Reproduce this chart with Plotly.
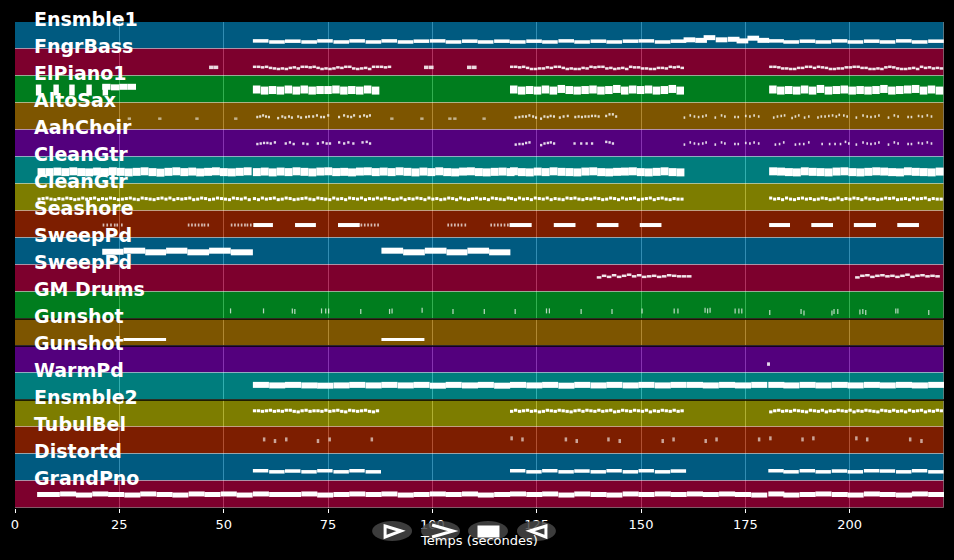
import plotly.graph_objects as go

# track names, top to bottom
track_names = ["Ensmble1", "FngrBass", "ElPiano1", "AltoSax", "AahChoir", "CleanGtr", "CleanGtr", "Seashore", "SweepPd",
               "SweepPd", "GM Drums", "Gunshot", "Gunshot", "WarmPd", "Ensmble2", "TubulBel", "Distortd", "GrandPno"]
tick_vals = [0, 25, 50, 75, 100, 125, 150, 175, 200]
band_colors = ["rgba(0,180,255,0.5)", "rgba(250,0,90,0.5)", "rgba(0,250,60,0.5)", "rgba(250,170,0,0.5)",
               "rgba(165,0,250,0.5)", "rgba(0,250,250,0.5)", "rgba(250,250,0,0.5)", "rgba(250,60,0,0.5)"]

# note start times (seconds), the song is built on these
beats_intro = [5.4, 7.3, 9.2, 11.1, 13.0, 14.9, 16.8, 18.7, 20.6, 22.5, 24.4, 26.3, 28.2, 30.1, 32.0, 33.9, 35.8, 37.7,
               39.6, 41.5, 43.4, 45.3, 47.2, 49.1, 51.0, 52.9, 54.8]
beats_a = [57.0, 58.9, 60.8, 62.7, 64.6, 66.5, 68.4, 70.3, 72.2, 74.1, 76.0, 77.9, 79.8, 81.7, 83.6, 85.5]
beats_mid = [87.4, 89.3, 91.2, 93.1, 95.0, 96.9, 98.8, 100.7, 102.6, 104.5, 106.4, 108.3, 110.2, 112.1, 114.0, 115.9, 117.8]
beats_b = [118.6, 120.5, 122.4, 124.3, 126.2, 128.1, 130.0, 131.9, 133.8, 135.7, 137.6, 139.5, 141.4, 143.3, 145.2,
           147.1, 149.0, 150.9, 152.8, 154.7, 156.6, 158.5]
beats_c = [180.7, 182.6, 184.5, 186.4, 188.3, 190.2, 192.1, 194.0, 195.9, 197.8, 199.7, 201.6, 203.5, 205.4, 207.3,
           209.2, 211.1, 213.0, 214.9, 216.8, 218.7, 220.6]
fine_intro = [5.4, 6.35, 7.3, 8.25, 9.2, 10.15, 11.1, 12.05, 13.0, 13.95, 14.9, 15.85, 16.8, 17.75, 18.7, 19.65, 20.6,
              21.55, 22.5, 23.45, 24.4, 25.35, 26.3, 27.25, 28.2, 29.15, 30.1, 31.05, 32.0, 32.95, 33.9, 34.85, 35.8,
              36.75, 37.7, 38.65, 39.6, 40.55, 41.5, 42.45, 43.4, 44.35, 45.3, 46.25, 47.2, 48.15, 49.1, 50.05, 51.0,
              51.95, 52.9, 53.85, 54.8, 55.75]
fine_a = [57.0, 57.95, 58.9, 59.85, 60.8, 61.75, 62.7, 63.65, 64.6, 65.55, 66.5, 67.45, 68.4, 69.35, 70.3, 71.25, 72.2,
          73.15, 74.1, 75.05, 76.0, 76.95, 77.9, 78.85, 79.8, 80.75, 81.7, 82.65, 83.6, 84.55, 85.5, 86.45]
fine_mid = [87.4, 88.35, 89.3, 90.25, 91.2, 92.15, 93.1, 94.05, 95.0, 95.95, 96.9, 97.85, 98.8, 99.75, 100.7, 101.65,
            102.6, 103.55, 104.5, 105.45, 106.4, 107.35, 108.3, 109.25, 110.2, 111.15, 112.1, 113.05, 114.0, 114.95,
            115.9, 116.85, 117.8]
fine_b = [118.6, 119.55, 120.5, 121.45, 122.4, 123.35, 124.3, 125.25, 126.2, 127.15, 128.1, 129.05, 130.0, 130.95, 131.9,
          132.85, 133.8, 134.75, 135.7, 136.65, 137.6, 138.55, 139.5, 140.45, 141.4, 142.35, 143.3, 144.25, 145.2,
          146.15, 147.1, 148.05, 149.0, 149.95, 150.9, 151.85, 152.8, 153.75, 154.7, 155.65, 156.6, 157.55, 158.5, 159.45]
fine_c = [180.7, 181.65, 182.6, 183.55, 184.5, 185.45, 186.4, 187.35, 188.3, 189.25, 190.2, 191.15, 192.1, 193.05, 194.0,
          194.95, 195.9, 196.85, 197.8, 198.75, 199.7, 200.65, 201.6, 202.55, 203.5, 204.45, 205.4, 206.35, 207.3,
          208.25, 209.2, 210.15, 211.1, 212.05, 213.0, 213.95, 214.9, 215.85, 216.8, 217.75, 218.7, 219.65, 220.6, 221.55]
bars_intro = [5.3, 6.9, 10.8, 14.6, 18.5, 22.3, 26.2, 30.0, 33.9, 37.7, 41.6, 45.4, 49.3, 53.1]
bars_a = [57.0, 60.9, 64.7, 68.6, 72.4, 76.3, 80.1, 84.0]
bars_mid = [87.8, 91.7, 95.5, 99.4, 103.2, 107.1, 110.9, 114.8]
bars_b = [118.6, 122.5, 126.3, 130.2, 134.0, 137.9, 141.7, 145.6, 149.4, 153.3, 157.1]
bars_gap = [161.0, 164.8, 168.7, 172.5, 176.4]
bars_c = [180.5, 184.1, 188.0, 191.8, 195.7, 199.5, 203.4, 207.2, 211.1, 214.9, 218.8]

# pitches, as a fraction of the track height
ens1_a = [.70, .74, .71, .74, .70, .74, .70, .74]
ens1_mid = [.70, .74, .71, .70, .74, .71, .74, .71]
ens1_b = [.74, .71, .74, .70, .74, .71, .74, .71, .70, .74, .71]
ens1_top_start = [160.2, 163.0, 165.0, 167.9, 170.8, 172.9, 175.5, 177.9]
ens1_top = [.66, .68, .58, .66, .64, .70, .60, .68]
ens1_c = [.70, .74, .71, .74, .70, .74, .71, .74, .70, .74, .71]

fngr_solo_start = [46.5, 47.6, 98.0, 99.2, 108.3, 109.5]
fngr_solo = [.68, .68, .68, .68, .68, .68]
fngr_a = [.66, .66, .68, .66, .70, .72, .74, .72, .74, .70, .68, .72, .66, .66, .68, .66, .70, .74, .72, .74, .72, .68,
          .70, .66, .66, .72, .74, .72, .70, .74, .66, .66, .66, .68, .66]
fngr_b = [.66, .66, .68, .66, .70, .74, .74, .72, .72, .68, .70, .66, .66, .70, .74, .72, .74, .74, .70, .72, .66, .68,
          .66, .66, .72, .70, .74, .72, .70, .74, .66, .68, .68, .72, .72, .74, .74, .70, .70, .72, .66, .68, .66, .70]
fngr_c = [.66, .66, .68, .72, .72, .74, .74, .70, .70, .66, .66, .70, .66, .68, .70, .74, .74, .72, .72, .68, .68, .66,
          .66, .70, .70, .74, .74, .72, .74, .68, .66, .68, .72, .74, .74, .72, .70, .74, .66, .70, .68, .72, .70, .72]

piano_teeth_start = [5.0, 9.2, 13.0, 17.1, 21.0]
piano_teeth = [.52, .52, .52, .52, .52]
piano_top_start = [20.9, 23.0, 25.0, 27.0]
piano_top = [.40, .42, .40, .40]
piano_a = [.50, .54, .52, .54, .50, .54, .50, .54, .52, .52, .50, .54, .52, .54, .50, .54]
piano_b = [.50, .54, .52, .54, .50, .54, .48, .52, .54, .52, .50, .54, .52, .48, .54, .50, .52, .50, .54, .52, .48, .54]
piano_c = [.50, .54, .52, .54, .50, .54, .48, .54, .52, .50, .54, .52, .54, .52, .48, .54, .52, .50, .48, .54, .50, .54]

alto_solo_start = [27.0, 34.3, 43.2, 52.5, 89.9, 97.1, 103.8, 105.0, 112.0]
alto_solo = [.58, .58, .58, .58, .58, .58, .58, .58, .58]
alto_a_start = [57.8, 58.5, 59.2, 59.9, 60.6, 62.8, 63.8, 64.5, 65.4, 66.1, 67.6, 68.3, 69.5, 70.2, 71.2, 72.1, 73.1, 73.8,
                74.8, 77.4, 78.6, 79.5, 80.3, 81.0, 82.4, 83.4, 84.1, 84.8]
alto_a = [.52, .50, .46, .50, .52, .56, .50, .54, .50, .54, .50, .54, .52, .50, .50, .46, .52, .52, .46, .52, .46, .50,
          .52, .46, .50, .46, .50, .46]
alto_b_start = [119.7, 120.6, 121.4, 122.2, 123.0, 123.9, 124.6, 125.8, 126.6, 127.4, 128.1, 128.9, 130.3, 131.2, 132.2,
                134.0, 134.8, 135.6, 136.4, 137.2, 138.0, 138.8, 139.6, 141.4, 142.2, 143.0, 143.8]
alto_b = [.54, .52, .50, .50, .46, .50, .54, .58, .50, .52, .48, .50, .54, .50, .48, .52, .50, .52, .50, .50, .48, .48,
          .50, .48, .42, .42, .50]
alto_c_start = [160.2, 161.6, 162.6, 163.6, 164.6, 165.4, 167.6, 169.1, 169.9, 172.3, 173.1, 174.9, 175.9, 176.9, 178.0,
                181.6, 182.5, 183.4, 184.2, 186.0, 186.8, 187.6, 189.0, 190.0, 192.2, 193.0, 193.9, 194.8, 195.7, 196.6,
                197.3, 198.4, 199.2, 201.4, 203.0, 204.0, 204.9, 205.9, 206.8, 209.1, 210.5, 211.4, 213.8, 214.6, 216.3,
                217.2, 218.4, 219.4]
alto_c = [.54, .46, .50, .52, .50, .46, .54, .46, .50, .52, .52, .48, .50, .46, .50,
          .54, .50, .48, .46, .56, .50, .46, .54, .50, .54, .50, .50, .48, .46, .50,
          .44, .46, .50, .54, .46, .50, .52, .50, .46, .54, .46, .50, .52, .52, .48, .50, .46, .50]

aah_a_start = [57.8, 58.6, 59.4, 60.2, 61.0, 62.0, 64.6, 65.6, 66.5, 68.8, 69.8, 72.3, 73.5, 74.4, 75.2, 77.4, 78.6, 79.6,
               80.8, 83.0, 84.0, 84.8]
aah_a = [.52, .50, .48, .48, .50, .46, .50, .46, .52, .50, .52, .50, .46, .50, .50, .46, .50, .46, .50, .46, .44, .50]
aah_b_start = [119.7, 120.6, 121.4, 122.2, 123.0, 125.8, 126.6, 127.4, 128.1, 128.9, 133.8, 135.4, 136.7, 138.0, 141.4, 142.2, 143.0]
aah_b = [.54, .52, .52, .48, .46, .56, .50, .48, .46, .50, .50, .50, .50, .50, .44, .46, .50]
aah_c_start = [160.2, 161.6, 162.6, 163.6, 164.6, 165.4, 167.6, 169.1, 169.9, 172.3, 173.1, 174.9, 175.9, 176.9, 178.0,
               182.0, 183.0, 184.0, 186.8, 187.8, 188.8, 190.0, 193.2, 195.0, 196.3, 197.6, 198.8, 199.6,
               201.4, 203.0, 204.0, 204.9, 205.9, 206.8, 209.1, 210.5, 211.4, 213.8, 214.6, 216.3, 217.2, 218.4, 219.4]
aah_c = [.54, .46, .50, .52, .50, .46, .54, .46, .50, .52, .52, .48, .50, .46, .50,
         .54, .52, .46, .54, .52, .52, .46, .52, .52, .52, .52, .44, .50,
         .54, .46, .50, .52, .50, .46, .54, .46, .50, .52, .52, .48, .50, .46, .50]

clean_intro = [.56, .56, .54, .56, .53, .56, .57, .54, .56, .53, .55, .57, .55, .53, .56, .58, .55, .53, .56, .54, .57,
               .55, .53, .56, .57, .55, .53]
clean_a = [.56, .54, .57, .54, .56, .53, .55, .57, .54, .53, .56, .55, .57, .54, .53, .56]
clean_mid = [.54, .56, .53, .55, .57, .54, .56, .53, .56, .57, .54, .53, .56, .57, .55, .54, .56]
clean_b = [.53, .56, .57, .54, .56, .53, .55, .56, .57, .54, .53, .56, .57, .55, .54, .53, .56, .57, .55, .53, .56, .57]
clean_c = [.53, .54, .56, .57, .53, .55, .56, .57, .54, .53, .56, .57, .55, .53, .54, .56, .57, .53, .55, .56, .57, .54]

olive_intro = [.56, .54, .52, .56, .58, .54, .56, .52, .54, .58, .56, .52, .56, .54, .52, .58, .54, .56, .52, .54, .58,
               .56, .54, .52, .56, .58, .52, .54, .56, .58, .54, .52, .56, .52, .58, .54, .56, .54, .52, .58, .56, .52,
               .54, .58, .56, .52, .54, .56, .58, .52, .54, .56, .52, .58]
olive_a = [.54, .58, .52, .56, .54, .52, .58, .56, .52, .54, .58, .56, .54, .52, .56, .58, .52, .54, .56, .58, .52, .56,
           .54, .58, .52, .54, .56, .52, .58, .54, .56, .52]
olive_mid = [.56, .52, .54, .58, .56, .52, .58, .54, .56, .52, .54, .58, .52, .56, .54, .58, .56, .52, .54, .58, .52,
             .56, .58, .54, .52, .56, .54, .58, .52, .54, .56, .58, .52]
olive_b = [.54, .58, .52, .56, .54, .58, .52, .54, .56, .52, .58, .54, .56, .58, .52, .54, .52, .56, .58, .54, .56, .52,
           .54, .58, .56, .52, .54, .58, .52, .56, .54, .52, .58, .56, .54, .52, .58, .54, .52, .56, .58, .54, .56, .56]
olive_c = [.52, .56, .54, .58, .52, .56, .58, .54, .52, .56, .54, .58, .56, .52, .54, .58, .56, .52, .58, .54, .56, .52,
           .54, .58, .52, .56, .54, .58, .56, .52, .54, .52, .58, .56, .54, .58, .52, .56, .54, .52, .58, .54, .56, .56]

shore_long_start = [57.1, 67.1, 77.4, 118.5, 129.1, 139.4, 149.7, 180.7, 190.8, 201.0, 211.4]
shore_long_end = [61.8, 72.1, 82.6, 123.8, 134.3, 144.6, 154.9, 185.7, 196.0, 206.3, 216.6]
shore_long = [.52, .52, .52, .52, .52, .52, .52, .52, .52, .52, .52]
shore_tick_start = [21.0, 21.9, 22.8, 23.7, 24.3, 25.4, 41.4, 42.2, 43.0, 43.8, 44.6, 45.2, 46.1, 51.7, 52.5, 53.3, 54.1,
                    54.9, 55.5, 56.3, 82.8, 83.6, 84.4, 85.2, 86.0, 86.8, 103.6, 104.4, 105.2, 106.0, 106.8, 107.7,
                    113.9, 114.7, 115.5, 116.3, 117.1, 117.9]
shore_tick = [.52, .52, .52, .52, .52, .52, .52, .52, .52, .52, .52, .52, .52, .52, .52, .52, .52, .52, .52, .52, .52,
              .52, .52, .52, .52, .52, .52, .52, .52, .52, .52, .52, .52, .52, .52, .52, .52, .52]

sweep1_start = [20.9, 26.0, 31.2, 36.2, 41.3, 46.5, 51.7, 87.8, 93.0, 98.2, 103.4, 108.4, 113.6]
sweep1_end = [26.0, 31.2, 36.2, 41.3, 46.5, 51.7, 57.0, 93.0, 98.2, 103.4, 108.4, 113.6, 118.7]
sweep1 = [.51, .47, .53, .47, .53, .47, .53, .47, .53, .47, .53, .47, .53]

sweep2_b_start = [139.4, 140.6, 141.8, 143.0, 144.2, 145.4, 146.6, 147.8, 149.0, 150.2, 151.4, 152.6, 153.8, 155.0, 156.2,
                  157.4, 158.6, 159.8, 161.0]
sweep2_b = [.46, .40, .44, .38, .44, .40, .36, .42, .38, .44, .42, .40, .44, .42, .38, .40, .42, .42, .42]
sweep2_c_start = [201.3, 202.5, 203.7, 204.9, 206.1, 207.3, 208.5, 209.7, 210.9, 212.1, 213.3, 214.5, 215.7, 216.9, 218.1,
                  219.3, 220.5]
sweep2_c = [.46, .40, .38, .44, .40, .38, .42, .40, .44, .40, .36, .44, .40, .38, .42, .40, .42]

drum_start = [51.5, 59.4, 66.3, 66.9, 73.3, 74.3, 75.0, 82.7, 89.6, 90.2, 97.4, 104.8, 112.3, 119.7, 127.2, 127.9, 135.5,
              142.9, 150.1, 157.8, 158.7, 165.2, 165.8, 166.4, 172.4, 173.3, 174.0, 180.7, 188.2, 188.9, 195.6, 196.1,
              197.0, 202.3, 203.0, 203.7, 210.9, 211.4, 218.8]
drum = [.70, .70, .70, .72, .70, .70, .70, .72, .72, .70, .68, .72, .72, .72, .70, .70, .72, .72, .70, .70, .70, .68,
        .70, .68, .70, .70, .70, .76, .72, .78, .78, .72, .72, .74, .72, .76, .70, .70, .76]

gunshot_start = [26.0, 87.8]
gunshot_end = [36.2, 98.1]
gunshot = [.76, .76]

warm_start = [180.2]
warm = [.67]

ens2_a = [.40, .40, .42, .40, .38, .42, .40, .42, .38, .38, .42, .44, .40, .38, .42, .40, .40, .42, .38, .42, .40, .38,
          .42, .44, .38, .40, .42, .40, .38, .42, .44, .40]
ens2_b = [.42, .38, .42, .40, .38, .42, .40, .44, .42, .38, .40, .42, .38, .40, .42, .44, .40, .38, .42, .38, .40, .42,
          .38, .42, .40, .38, .44, .42, .38, .40, .42, .38, .40, .42, .38, .44, .40, .42, .38, .40, .42, .38, .42, .40]
ens2_c = [.44, .40, .38, .42, .40, .42, .38, .40, .42, .44, .38, .40, .42, .38, .44, .40, .42, .38, .40, .42, .38, .44,
          .40, .42, .38, .40, .42, .44, .38, .40, .42, .38, .42, .40, .44, .38, .42, .40, .38, .44, .40, .42, .38, .40]

bell_start = [59.4, 62.0, 64.7, 72.3, 75.1, 85.2, 118.7, 121.3, 131.7, 134.3, 141.9, 144.6, 154.9, 157.5, 165.2, 167.8,
              178.0, 180.7, 188.4, 191.0, 201.3, 203.9, 214.2, 216.9]
bell = [.46, .52, .46, .52, .46, .46, .42, .46, .46, .52, .46, .52, .52, .46, .52, .46, .46, .42, .46, .42, .42, .46, .46, .52]

dist_a = [.62, .66, .63, .66, .62, .66, .62, .66]
dist_b = [.62, .66, .62, .66, .63, .66, .62, .66, .62, .66, .63]
dist_c = [.62, .66, .62, .66, .63, .66, .62, .63, .66, .62, .66]

grand_intro = [.50, .50, .48, .52, .48, .50, .52, .48, .50, .52, .48, .50, .48, .52]
grand_a = [.48, .50, .50, .48, .52, .50, .48, .50]
grand_mid = [.48, .52, .50, .48, .50, .48, .52, .50]
grand_b = [.48, .50, .48, .52, .48, .50, .52, .48, .50, .48, .50]
grand_gap = [.48, .50, .48, .50, .52]
grand_c = [.48, .52, .50, .48, .50, .52, .48, .50, .52, .48, .50]

warm_a = [.44, .46, .44, .46, .47, .46, .44, .46]
warm_mid = [.44, .46, .44, .47, .44, .46, .44, .47]
warm_b = [.44, .46, .44, .47, .44, .46, .44, .46, .44, .46, .44]
warm_gap = [.44, .46, .44, .46, .44]
warm_c = [.44, .46, .44, .46, .44, .46, .44, .46, .44, .46, .44]

fig = go.Figure()

# coloured track bands
fig.add_trace(go.Bar(
    x=[222.6] * len(track_names),
    y=[i + 0.5 for i in range(len(track_names))],
    width=1,
    orientation="h",
    marker=dict(color=[band_colors[i % 8] for i in range(len(track_names))],
                line=dict(color="rgba(255,255,255,0.35)", width=1)),
    hoverinfo="skip",
    showlegend=False,
))


def add_notes(track, starts, pitches, length, width, alpha=1.0, ends=None):
    xs = []
    ys = []
    for i, (s, p) in enumerate(zip(starts, pitches)):
        xs += [s, ends[i] if ends else s + length, None]
        ys += [track + p, track + p, None]
    fig.add_trace(go.Scatter(x=xs, y=ys, mode="lines", opacity=alpha, showlegend=False, hoverinfo="skip",
                             line=dict(color="white", width=width)))


add_notes(0, bars_a, ens1_a, 3.75, 3.5)
add_notes(0, bars_mid, ens1_mid, 3.75, 3.5)
add_notes(0, bars_b, ens1_b, 3.75, 3.5)
add_notes(0, ens1_top_start, ens1_top, 2.8, 5)
add_notes(0, bars_c, ens1_c, 3.75, 3.5)
add_notes(1, fngr_solo_start, fngr_solo, 1.1, 3.5, 0.85)
add_notes(1, fine_a + [87.4, 88.35, 89.3], fngr_a, 0.85, 2.5, 0.9)
add_notes(1, fine_b, fngr_b, 0.85, 2.5, 0.9)
add_notes(1, fine_c, fngr_c, 0.85, 2.5, 0.9)
add_notes(2, piano_teeth_start, piano_teeth, 1.3, 11)
add_notes(2, piano_top_start, piano_top, 2.0, 6)
add_notes(2, beats_a, piano_a, 1.8, 8)
add_notes(2, beats_b, piano_b, 1.8, 8)
add_notes(2, beats_c, piano_c, 1.8, 8)
add_notes(3, alto_solo_start, alto_solo, 0.8, 2.5, 0.55)
add_notes(3, alto_a_start, alto_a, 0.5, 2.5, 0.8)
add_notes(3, alto_b_start, alto_b, 0.5, 2.5, 0.8)
add_notes(3, alto_c_start, alto_c, 0.4, 2.5, 0.8)
add_notes(4, aah_a_start, aah_a, 0.55, 2.5, 0.85)
add_notes(4, aah_b_start, aah_b, 0.55, 2.5, 0.85)
add_notes(4, aah_c_start, aah_c, 0.4, 2.5, 0.85)
add_notes(5, beats_intro, clean_intro, 1.9, 8)
add_notes(5, beats_a, clean_a, 1.9, 8)
add_notes(5, beats_mid, clean_mid, 1.9, 8)
add_notes(5, beats_b, clean_b, 1.9, 8)
add_notes(5, beats_c, clean_c, 1.9, 8)
add_notes(6, fine_intro, olive_intro, 0.75, 3)
add_notes(6, fine_a, olive_a, 0.75, 3)
add_notes(6, fine_mid, olive_mid, 0.75, 3)
add_notes(6, fine_b, olive_b, 0.75, 3)
add_notes(6, fine_c, olive_c, 0.75, 3)
add_notes(7, shore_long_start, shore_long, 0, 4, ends=shore_long_end)
add_notes(7, shore_tick_start, shore_tick, 0.4, 3, 0.7)
add_notes(8, sweep1_start, sweep1, 0, 6, ends=sweep1_end)
add_notes(9, sweep2_b_start, sweep2_b, 1.1, 2.5, 0.9)
add_notes(9, sweep2_c_start, sweep2_c, 1.1, 2.5, 0.9)
add_notes(10, drum_start, drum, 0.3, 5, 0.7)
add_notes(11, gunshot_start, gunshot, 0, 3, ends=gunshot_end)
add_notes(12, warm_start, warm, 0.7, 3.5, 0.85)
add_notes(13, bars_a, warm_a, 3.85, 6)
add_notes(13, bars_mid, warm_mid, 3.85, 6)
add_notes(13, bars_b, warm_b, 3.85, 6)
add_notes(13, bars_gap, warm_gap, 3.85, 6)
add_notes(13, bars_c, warm_c, 3.85, 6)
add_notes(14, fine_a, ens2_a, 0.8, 3)
add_notes(14, fine_b, ens2_b, 0.8, 3)
add_notes(14, fine_c, ens2_c, 0.8, 3)
add_notes(15, bell_start, bell, 0.6, 4, 0.6)
add_notes(16, bars_a, dist_a, 3.7, 3.5)
add_notes(16, bars_b, dist_b, 3.7, 3.5)
add_notes(16, bars_c, dist_c, 3.7, 3.5)
add_notes(17, bars_intro, grand_intro, 3.85, 5)
add_notes(17, bars_a, grand_a, 3.85, 5)
add_notes(17, bars_mid, grand_mid, 3.85, 5)
add_notes(17, bars_b, grand_b, 3.85, 5)
add_notes(17, bars_gap, grand_gap, 3.85, 5)
add_notes(17, bars_c, grand_c, 3.85, 5)

# track names sit on the top edge of each band
annotations = []
for i, name in enumerate(track_names):
    annotations.append(dict(text=name, x=4.1, xref="x", y=1 - (i - 0.11) / 18, yref="paper", xanchor="left",
                            yanchor="middle", showarrow=False, font=dict(size=19, color="white", weight="bold")))


# player buttons under the chart, given in window pixels
def px_x(px):
    return (px - 14.5) / 930


def px_y(py):
    return (508 - py) / 486.5


shapes = []
for left, right in [(372, 412), (421, 460), (468, 508), (517, 556)]:
    shapes.append(dict(type="circle", xref="paper", yref="paper", layer="above",
                       x0=px_x(left), x1=px_x(right), y0=px_y(541), y1=px_y(521),
                       fillcolor="rgba(70,70,70,0.85)", line_width=0))


def glyph(points, closed, fill):
    path = "M " + " L ".join(f"{px_x(a)} {px_y(b)}" for a, b in points) + (" Z" if closed else "")
    return dict(type="path", xref="paper", yref="paper", layer="above", path=path,
                line=dict(color="white", width=3), fillcolor="white" if fill else "rgba(0,0,0,0)")


shapes.append(glyph([(385, 526), (401, 531), (385, 537)], True, False))
shapes.append(glyph([(432, 525), (453, 531), (432, 537)], False, False))
shapes.append(glyph([(479, 527), (498, 527), (498, 536), (479, 536)], True, True))
shapes.append(glyph([(546, 526), (530, 531), (546, 537)], True, False))

# these three band edges show as black lines
for edge in [11, 12, 14]:
    shapes.append(dict(type="line", xref="paper", yref="y", x0=0, x1=1, y0=edge, y1=edge, layer="above",
                       line=dict(color="black", width=1.5)))

fig.update_layout(
    width=954,
    height=560,
    margin=dict(l=14.5, r=9.5, t=21.5, b=52, pad=0),
    autosize=False,
    paper_bgcolor="black",
    plot_bgcolor="black",
    font=dict(family="DejaVu Sans", color="white", size=13),
    shapes=shapes,
    annotations=annotations,
    bargap=0,
    xaxis=dict(range=[0, 222.6], tickvals=tick_vals, showgrid=True, gridcolor="rgba(255,255,255,0.4)", gridwidth=1,
               ticks="outside", ticklen=4, tickcolor="white", zeroline=False, showline=False,
               title=dict(text="Temps (secondes)", standoff=5, font=dict(size=13))),
    yaxis=dict(range=[18, 0], showticklabels=False, showgrid=False, zeroline=False, ticks=""),
)

fig.write_html("out.html", config={"displayModeBar": False}, post_script="document.body.style.margin='0';")
